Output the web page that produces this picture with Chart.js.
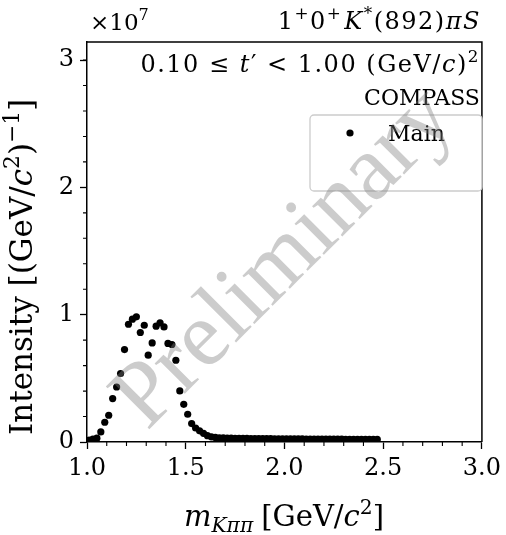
<!DOCTYPE html>
<html><head><meta charset="utf-8">
<script src="https://cdn.jsdelivr.net/npm/chart.js@4/dist/chart.umd.min.js"></script>
<style>html,body{margin:0;padding:0;background:#fff}canvas{display:block}</style>
</head><body>
<canvas id="c" width="506" height="535"></canvas>
<script>
// ---- data (intensity in units of 10^7 per GeV/c^2) ----
const massBins = [1.01,1.03,1.05,1.07,1.09,1.11,1.13,1.15,1.17,1.19,
  1.21,1.23,1.25,1.27,1.29,1.31,1.33,1.35,1.37,1.39,
  1.41,1.43,1.45,1.47,1.49,1.51,1.53,1.55,1.57,1.59,
  1.61,1.63,1.65,1.67,1.69,1.71,1.73,1.75,1.77,1.79,
  1.81,1.83,1.85,1.87,1.89,1.91,1.93,1.95,1.97,1.99,
  2.01,2.03,2.05,2.07,2.09,2.11,2.13,2.15,2.17,2.19,
  2.21,2.23,2.25,2.27,2.29,2.31,2.33,2.35,2.37,2.39,
  2.41,2.43,2.45,2.47];
const intensityE7 = [0.015,0.022,0.030,0.079,0.155,0.210,0.341,0.432,0.538,0.726,
  0.925,0.965,0.983,0.860,0.917,0.682,0.778,0.910,0.936,0.904,
  0.774,0.766,0.642,0.401,0.296,0.218,0.145,0.110,0.088,0.068,
  0.050,0.041,0.036,0.033,0.032,0.031,0.030,0.029,0.029,0.028,
  0.028,0.027,0.027,0.027,0.026,0.026,0.026,0.025,0.025,0.025,
  0.025,0.024,0.024,0.024,0.024,0.023,0.023,0.023,0.023,0.023,
  0.022,0.022,0.022,0.022,0.022,0.021,0.021,0.021,0.021,0.021,
  0.020,0.020,0.020,0.020];
const xTickValues = [1.0,1.5,2.0,2.5,3.0];
const yTickValues = [0,1,2,3];
const xMinorTicks = [1.1,1.2,1.3,1.4,1.6,1.7,1.8,1.9,2.1,2.2,2.3,2.4,2.6,2.7,2.8,2.9];
const yMinorTicks = [0.2,0.4,0.6,0.8,1.2,1.4,1.6,1.8,2.2,2.4,2.6,2.8,3.0];
const seriesLabel = 'Main';
const xRange = [1.0, 3.0];
const yRange = [0, 3.142];

// ---- helpers ----
const SERIF = "'DejaVu Serif', 'Liberation Serif', serif";
const WM_FONT = "'Liberation Serif', serif";
function fnt(size, it){ return (it ? 'italic ' : '') + size + 'px ' + SERIF; }
function segSize(s, size){ return (s.sup || s.sub) ? size * 0.7 : size; }
function richWidth(ctx, segs, size){
  let w = 0;
  for (const s of segs){ ctx.font = fnt(segSize(s,size), s.it); w += ctx.measureText(s.t).width + (s.gap || 0); }
  return w;
}
function drawRich(ctx, segs, x, y, size, align, spacing){
  ctx.save();
  ctx.letterSpacing = (spacing || 0) + 'px';
  const w = richWidth(ctx, segs, size);
  let cx = align === 'right' ? x - w : (align === 'center' ? x - w/2 : x);
  ctx.textAlign = 'left'; ctx.textBaseline = 'alphabetic'; ctx.fillStyle = '#000';
  for (const s of segs){
    ctx.font = fnt(segSize(s,size), s.it);
    const dy = s.sup ? -size*0.42 : (s.sub ? size*0.22 : 0);
    ctx.fillText(s.t, cx, y + dy);
    cx += ctx.measureText(s.t).width + (s.gap || 0);
  }
  ctx.restore();
}

const decorPlugin = {
  id: 'decor',
  afterDatasetsDraw(chart){
    const ctx = chart.ctx, a = chart.chartArea;
    const xs = chart.scales.x, ys = chart.scales.y;
    ctx.save();
    // frame
    ctx.strokeStyle = '#000'; ctx.lineWidth = 1.5;
    ctx.beginPath();
    ctx.moveTo(a.left, a.top); ctx.lineTo(a.right, a.top); ctx.lineTo(a.right, a.bottom);
    ctx.stroke();
    // minor ticks
    ctx.lineWidth = 1.1;
    ctx.beginPath();
    for (const v of xMinorTicks){ const p = xs.getPixelForValue(v); ctx.moveTo(p, a.bottom); ctx.lineTo(p, a.bottom + 4); }
    for (const v of yMinorTicks){ const p = ys.getPixelForValue(v); ctx.moveTo(a.left - 4, p); ctx.lineTo(a.left, p); }
    ctx.stroke();
    // legend
    const lx = 310, ly = 115, lw = 172, lh = 76, r = 4;
    ctx.beginPath();
    ctx.moveTo(lx + r, ly); ctx.lineTo(lx + lw - r, ly); ctx.arcTo(lx + lw, ly, lx + lw, ly + r, r);
    ctx.lineTo(lx + lw, ly + lh - r); ctx.arcTo(lx + lw, ly + lh, lx + lw - r, ly + lh, r);
    ctx.lineTo(lx + r, ly + lh); ctx.arcTo(lx, ly + lh, lx, ly + lh - r, r);
    ctx.lineTo(lx, ly + r); ctx.arcTo(lx, ly, lx + r, ly, r); ctx.closePath();
    ctx.fillStyle = 'rgba(255,255,255,0.8)'; ctx.fill();
    ctx.strokeStyle = '#cccccc'; ctx.lineWidth = 1.3; ctx.stroke();
    ctx.fillStyle = '#000';
    ctx.beginPath(); ctx.arc(350, 133, 3.6, 0, Math.PI*2); ctx.fill();
    drawRich(ctx, [{t: seriesLabel}], 388, 141, 22, 'left');
    ctx.restore();
  },
  afterDraw(chart){
    const ctx = chart.ctx, a = chart.chartArea;
    ctx.save();
    // exponent
    drawRich(ctx, [{t:'×10'},{t:'7',sup:true}], a.left + 3, 30, 23, 'left');
    // title
    drawRich(ctx, [{t:'1'},{t:'+',sup:true},{t:'0'},{t:'+',sup:true,gap:2},{t:'K',it:true},{t:'*',sup:true},
      {t:'(892)'},{t:'π',it:true},{t:'S',it:true}], a.right - 1, 29, 24, 'right', 1.5);
    // t' range
    drawRich(ctx, [{t:'0.10 ≤ '},{t:'t',it:true},{t:'′ < 1.00 (GeV/'},{t:'c',it:true},{t:')'},{t:'2',sup:true}],
      a.right - 2, 72, 24, 'right', 1.5);
    drawRich(ctx, [{t:'COMPASS'}], a.right - 2, 105, 22, 'right');
    // x axis title
    drawRich(ctx, [{t:'m',it:true},{t:'Kππ',it:true,sub:true,gap:8},{t:'[GeV/'},{t:'c',it:true},{t:'2',sup:true},{t:']'}],
      284, 526, 29, 'center');
    // y axis title
    ctx.save();
    ctx.translate(22 + 31*0.33, 267);
    ctx.rotate(-Math.PI/2);
    drawRich(ctx, [{t:'Intensity [(GeV/'},{t:'c',it:true},{t:'2',sup:true},{t:')'},{t:'−1',sup:true},{t:']'}],
      0, 0, 31, 'center');
    ctx.restore();
    // watermark
    ctx.translate(285, 259);
    ctx.rotate(-Math.PI/4);
    ctx.font = '93px ' + WM_FONT;
    ctx.fillStyle = 'rgba(128,128,128,0.4)';
    ctx.textAlign = 'center'; ctx.textBaseline = 'middle';
    ctx.fillText('Preliminary', 0, 0);
    ctx.restore();
  }
};

const tickFont = {family: SERIF, size: 24};
new Chart(document.getElementById('c').getContext('2d'), {
  type: 'scatter',
  data: { datasets: [{
    label: seriesLabel,
    data: massBins.map((m, i) => ({x: m, y: intensityE7[i]})),
    pointRadius: 3.6, pointHoverRadius: 3.6, pointBorderWidth: 0,
    backgroundColor: '#000', borderColor: '#000', showLine: false
  }]},
  options: {
    responsive: false, animation: false, devicePixelRatio: 1,
    layout: { padding: { top: 42, right: 21, left: 0, bottom: 0 } },
    plugins: { legend: { display: false }, tooltip: { enabled: false } },
    scales: {
      x: {
        type: 'linear', min: xRange[0], max: xRange[1],
        afterBuildTicks: s => { s.ticks = xTickValues.map(v => ({value: v})); },
        afterFit: s => { s.height = 93; },
        ticks: { callback: v => Number(v).toFixed(1), font: tickFont, color: '#000', padding: 5, maxRotation: 0, autoSkip: false },
        grid: { drawOnChartArea: false, drawTicks: true, tickLength: 7, tickColor: '#000', tickWidth: 1.3 },
        border: { color: '#000', width: 1.5 }
      },
      y: {
        type: 'linear', min: yRange[0], max: yRange[1],
        afterBuildTicks: s => { s.ticks = yTickValues.map(v => ({value: v})); },
        afterFit: s => { s.width = 87; },
        ticks: { callback: v => String(v), font: tickFont, color: '#000', padding: 6, autoSkip: false },
        grid: { drawOnChartArea: false, drawTicks: true, tickLength: 7, tickColor: '#000', tickWidth: 1.3 },
        border: { color: '#000', width: 1.5 }
      }
    }
  },
  plugins: [decorPlugin]
});
</script>
</body></html>
